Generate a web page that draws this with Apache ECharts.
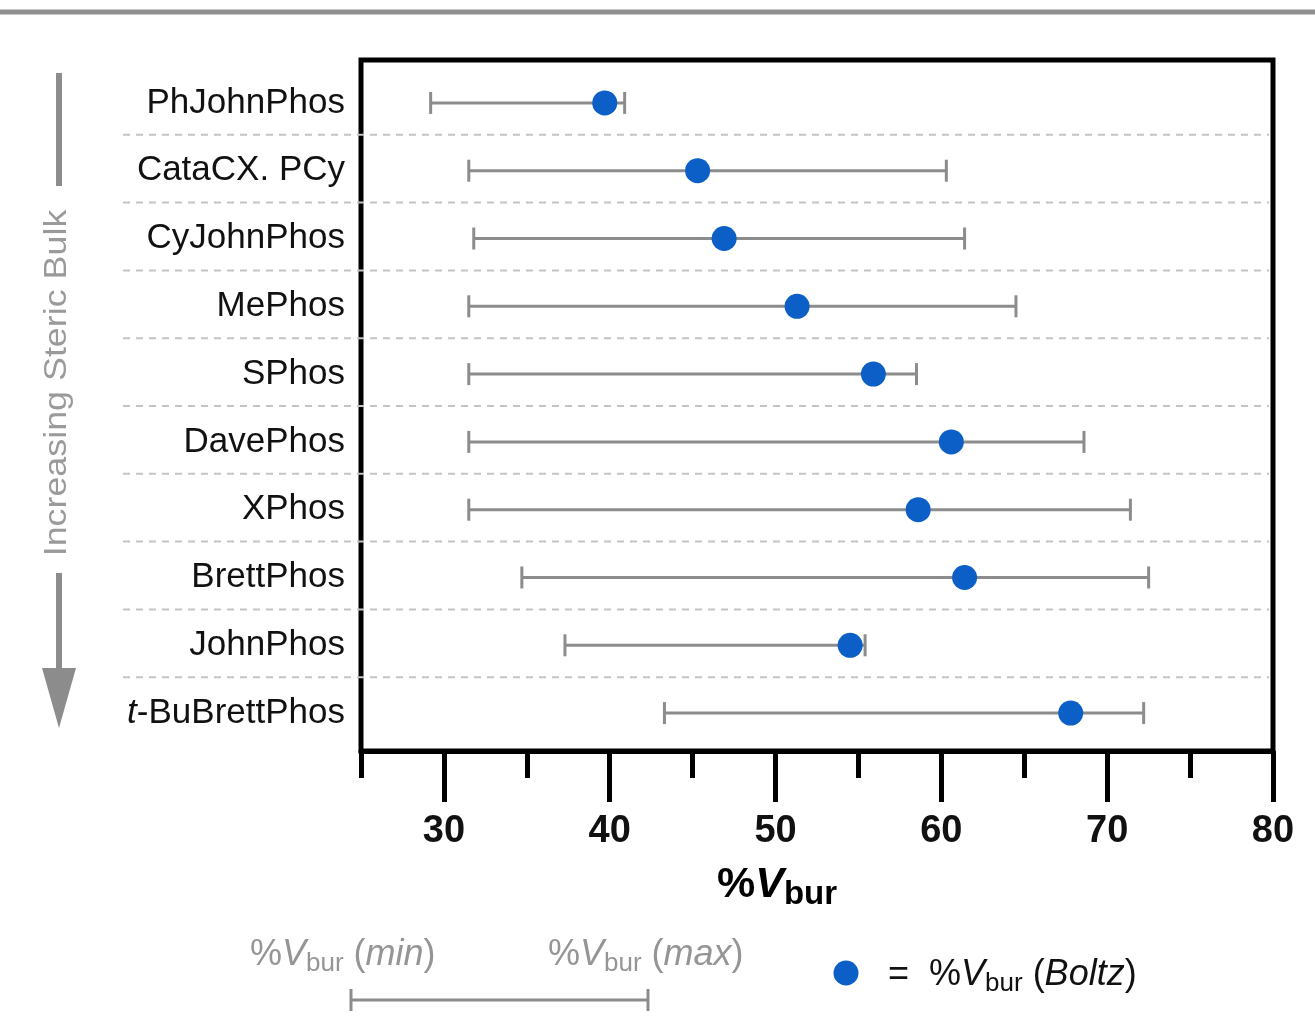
<!DOCTYPE html>
<html>
<head>
<meta charset="utf-8">
<title>%Vbur ranges</title>
<script src="https://cdn.jsdelivr.net/npm/echarts@6/dist/echarts.min.js"></script>
<style>
  html, body { margin: 0; padding: 0; background: #fff; }
  #main { width: 1315px; height: 1031px; }
</style>
</head>
<body>
<div id="main"></div>
<script>
// ligands top to bottom (increasing steric bulk)
var ligands = ['PhJohnPhos', 'CataCX. PCy', 'CyJohnPhos', 'MePhos', 'SPhos', 'DavePhos', 'XPhos', 'BrettPhos', 'JohnPhos', 't-BuBrettPhos'];
var vburMin = [29.2, 31.5, 31.8, 31.5, 31.5, 31.5, 31.5, 34.7, 37.3, 43.3];
var vburMax = [40.9, 60.3, 61.4, 64.5, 58.5, 68.6, 71.4, 72.5, 55.4, 72.2];
var vburBoltz = [39.7, 45.3, 46.9, 51.3, 55.9, 60.6, 58.6, 61.4, 54.5, 67.8];
var majorTicks = [30, 40, 50, 60, 70, 80];
var minorTicks = [25, 35, 45, 55, 65, 75];

var FONT = '"Liberation Sans", Arial, Helvetica, sans-serif';
var GREY = '#8c8c8c';
var BLUE = '#0b5fc6';

var rangeData = ligands.map(function (n, i) { return [vburMin[i], vburMax[i], i]; });
var dotData = ligands.map(function (n, i) { return [vburBoltz[i], i]; });
var sepData = ligands.slice(1).map(function (n, i) { return [25, i]; });

// %Vbur rich text styles (size, sub size, colour, weight)
// color is for echarts labels, fill for graphic texts
function vburRich(size, sub, color, weight) {
  var base = { fontFamily: FONT, color: color, fill: color, fontWeight: weight, fontSize: size, lineHeight: size + 8, verticalAlign: 'middle' };
  return {
    p: base,
    v: Object.assign({}, base, { fontStyle: 'italic' }),
    i: Object.assign({}, base, { fontStyle: 'italic' }),
    s: Object.assign({}, base, { fontSize: sub, lineHeight: sub - 4, verticalAlign: 'bottom' })
  };
}

var chart = echarts.init(document.getElementById('main'));
chart.setOption({
  backgroundColor: '#fff',
  animation: false,
  grid: [
    { left: 361, right: 42, top: 60, bottom: 280, show: true, borderColor: '#000', borderWidth: 5, backgroundColor: 'transparent' },
    { left: 361, right: 42, top: 69, bottom: 284 }
  ],
  xAxis: [
    {
      gridIndex: 0, type: 'value', min: 25, max: 80, interval: 5,
      axisLine: { lineStyle: { color: '#000', width: 5 } },
      axisTick: { customValues: minorTicks, length: 27, lineStyle: { color: '#000', width: 5 } },
      axisLabel: { customValues: majorTicks, margin: 62, fontSize: 38, fontWeight: 'bold', color: '#111', fontFamily: FONT },
      splitLine: { show: false },
      name: '{p|%}{v|V}{s|bur}',
      nameLocation: 'middle',
      nameGap: 109,
      nameTextStyle: { padding: [0, 80, 0, 0], rich: vburRich(43, 33, '#000', 'bold') }
    },
    {
      gridIndex: 0, type: 'value', min: 25, max: 80, interval: 5, position: 'bottom',
      axisLine: { show: false },
      axisTick: { customValues: majorTicks, length: 51, lineStyle: { color: '#000', width: 5 } },
      axisLabel: { show: false },
      splitLine: { show: false }
    },
    { gridIndex: 1, type: 'value', min: 25, max: 80, show: false }
  ],
  yAxis: [
    { gridIndex: 0, type: 'value', show: false },
    {
      gridIndex: 1, type: 'category', inverse: true, data: ligands,
      axisLine: { show: false }, axisTick: { show: false }, splitLine: { show: false },
      axisLabel: {
        margin: 16, fontSize: 35, color: '#111', fontFamily: FONT,
        formatter: function (v) { return v.indexOf('t-') === 0 ? '{i|t}{n|' + v.slice(1) + '}' : v; },
        rich: {
          i: { fontSize: 35, fontStyle: 'italic', color: '#111', fontFamily: FONT },
          n: { fontSize: 35, color: '#111', fontFamily: FONT }
        }
      }
    }
  ],
  series: [
    {
      // dashed separators between ligands, running under the labels
      type: 'custom', xAxisIndex: 2, yAxisIndex: 1, clip: false, silent: true, z: 1,
      data: sepData,
      renderItem: function (params, api) {
        var i = api.value(1);
        var a = api.coord([25, i]);
        var b = api.coord([80, i + 1]);
        var y = (a[1] + b[1]) / 2 - 2;
        return {
          type: 'line',
          shape: { x1: a[0] - 238, y1: y, x2: b[0] - 4, y2: y },
          style: { stroke: '#c4c4c4', lineWidth: 2, lineDash: [7, 6] }
        };
      }
    },
    {
      type: 'custom', xAxisIndex: 2, yAxisIndex: 1, z: 2,
      encode: { x: [0, 1], y: 2 },
      data: rangeData,
      renderItem: function (params, api) {
        var p1 = api.coord([api.value(0), api.value(2)]);
        var p2 = api.coord([api.value(1), api.value(2)]);
        var st = { stroke: GREY, lineWidth: 3 };
        return {
          type: 'group',
          children: [
            { type: 'line', shape: { x1: p1[0], y1: p1[1], x2: p2[0], y2: p2[1] }, style: st },
            { type: 'line', shape: { x1: p1[0], y1: p1[1] - 11, x2: p1[0], y2: p1[1] + 11 }, style: st },
            { type: 'line', shape: { x1: p2[0], y1: p2[1] - 11, x2: p2[0], y2: p2[1] + 11 }, style: st }
          ]
        };
      }
    },
    {
      type: 'scatter', xAxisIndex: 2, yAxisIndex: 1, z: 3,
      symbolSize: 25,
      itemStyle: { color: BLUE, opacity: 1 },
      data: dotData
    }
  ],
  graphic: [
    { type: 'line', shape: { x1: 0, y1: 12, x2: 1315, y2: 12 }, style: { stroke: '#8f8f8f', lineWidth: 5 } },
    // increasing steric bulk arrow
    { type: 'line', shape: { x1: 59, y1: 73, x2: 59, y2: 186 }, style: { stroke: GREY, lineWidth: 6 } },
    { type: 'line', shape: { x1: 59, y1: 573, x2: 59, y2: 672 }, style: { stroke: GREY, lineWidth: 6 } },
    { type: 'polygon', shape: { points: [[42, 668], [76, 668], [59, 728]] }, style: { fill: GREY } },
    {
      type: 'text', x: 57, y: 383, rotation: Math.PI / 2, scaleX: 1.12,
      style: { text: 'Increasing Steric Bulk', fontSize: 32, fontFamily: FONT, fill: '#9a9a9a', align: 'center', verticalAlign: 'middle' }
    },
    // key
    {
      type: 'text', x: 250, y: 955,
      style: { text: '{p|%}{v|V}{s|bur}{p| (}{i|min}{p|)}', rich: vburRich(36, 26, '#959595', 'normal'), align: 'left', verticalAlign: 'middle' }
    },
    {
      type: 'text', x: 548, y: 955,
      style: { text: '{p|%}{v|V}{s|bur}{p| (}{i|max}{p|)}', rich: vburRich(36, 26, '#959595', 'normal'), align: 'left', verticalAlign: 'middle' }
    },
    { type: 'line', shape: { x1: 351, y1: 1000, x2: 648, y2: 1000 }, style: { stroke: GREY, lineWidth: 3 } },
    { type: 'line', shape: { x1: 351, y1: 989, x2: 351, y2: 1011 }, style: { stroke: GREY, lineWidth: 3 } },
    { type: 'line', shape: { x1: 648, y1: 989, x2: 648, y2: 1011 }, style: { stroke: GREY, lineWidth: 3 } },
    { type: 'circle', shape: { cx: 846, cy: 973, r: 12.5 }, style: { fill: BLUE } },
    {
      type: 'text', x: 888, y: 975,
      style: { text: '{p|=  %}{v|V}{s|bur}{p| (}{i|Boltz}{p|)}', rich: vburRich(36, 26, '#111', 'normal'), align: 'left', verticalAlign: 'middle' }
    }
  ]
});
</script>
</body>
</html>
